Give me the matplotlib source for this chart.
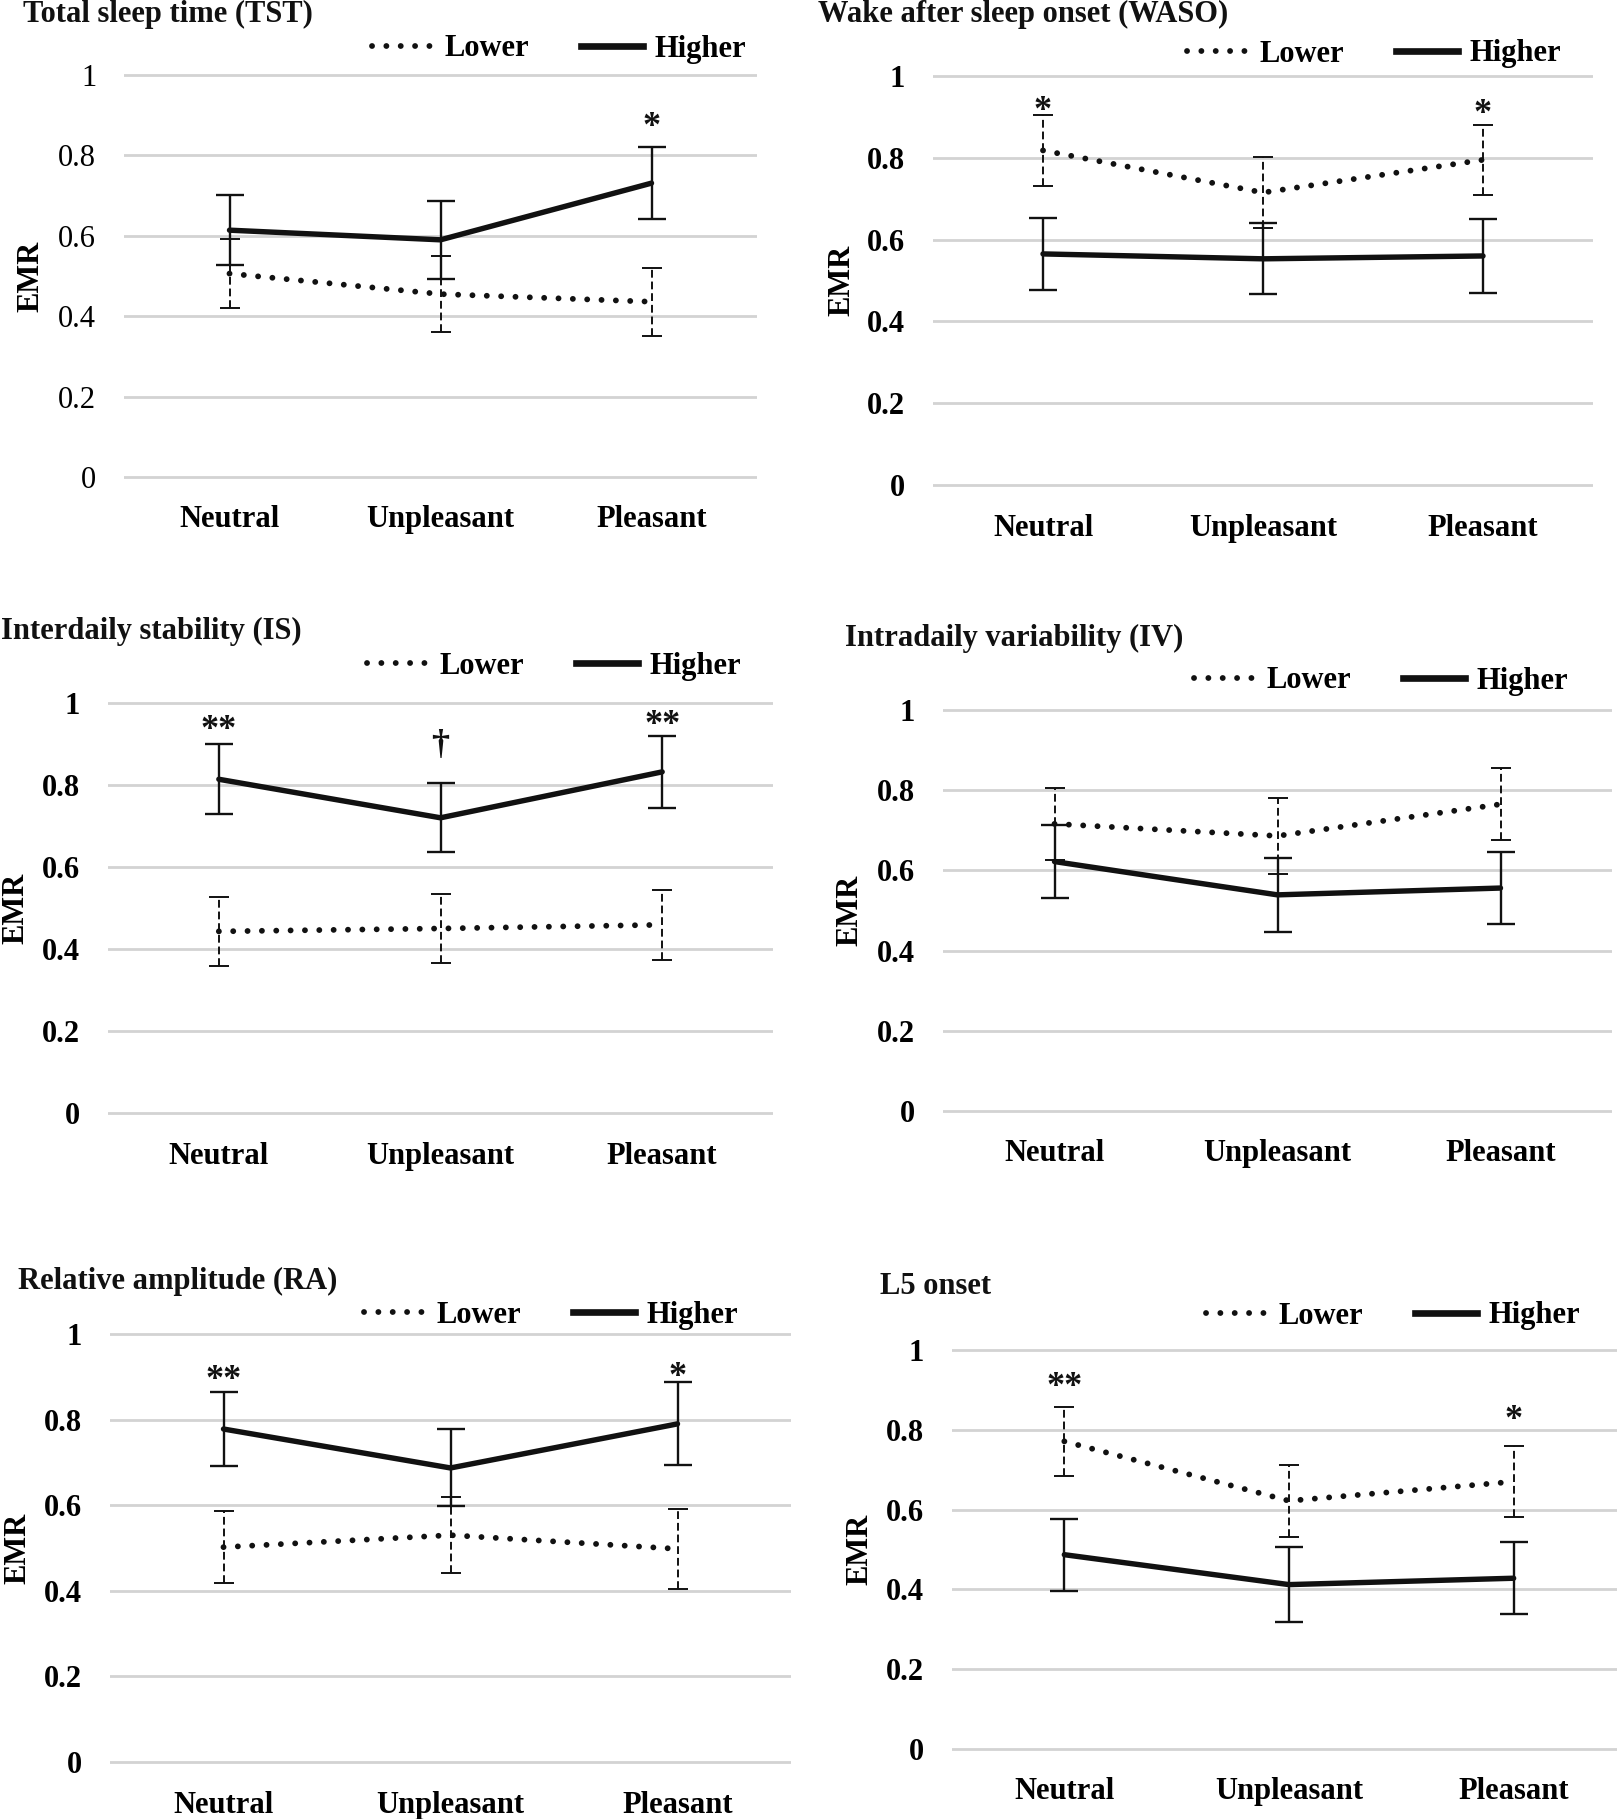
import matplotlib
matplotlib.use('Agg')
import matplotlib.pyplot as plt
from matplotlib.lines import Line2D

# ---------------- data ----------------
categories = ['Neutral', 'Unpleasant', 'Pleasant']
ytick_values = [0, 0.2, 0.4, 0.6, 0.8, 1]
ytick_labels = ['0', '0.2', '0.4', '0.6', '0.8', '1']
series_names = ['Lower', 'Higher']

titles = ['Total sleep time (TST)', 'Wake after sleep onset (WASO)',
          'Interdaily stability (IS)', 'Intradaily variability (IV)',
          'Relative amplitude (RA)', 'L5 onset']

tst_lower = [0.506, 0.455, 0.436]
tst_lower_err = [0.085, 0.094, 0.085]
tst_higher = [0.614, 0.590, 0.731]
tst_higher_err = [0.087, 0.097, 0.090]

waso_lower = [0.818, 0.715, 0.795]
waso_lower_err = [0.086, 0.086, 0.086]
waso_higher = [0.565, 0.553, 0.560]
waso_higher_err = [0.088, 0.087, 0.090]

is_lower = [0.443, 0.450, 0.459]
is_lower_err = [0.084, 0.084, 0.085]
is_higher = [0.814, 0.720, 0.832]
is_higher_err = [0.085, 0.084, 0.088]

iv_lower = [0.716, 0.686, 0.765]
iv_lower_err = [0.090, 0.095, 0.090]
iv_higher = [0.622, 0.539, 0.556]
iv_higher_err = [0.090, 0.092, 0.090]

ra_lower = [0.502, 0.530, 0.498]
ra_lower_err = [0.084, 0.088, 0.094]
ra_higher = [0.778, 0.687, 0.790]
ra_higher_err = [0.086, 0.090, 0.097]

l5_lower = [0.771, 0.622, 0.670]
l5_lower_err = [0.087, 0.090, 0.089]
l5_higher = [0.487, 0.412, 0.428]
l5_higher_err = [0.090, 0.094, 0.090]

# significance marks: (category index, y value, text)
tst_marks = [(2, 0.888, '*')]
waso_marks = [(0, 0.933, '*'), (2, 0.924, '*')]
is_marks = [(0, 0.951, '**'), (1, 0.897, '\u2020'), (2, 0.963, '**')]
iv_marks = []
ra_marks = [(0, 0.910, '**'), (2, 0.917, '*')]
l5_marks = [(0, 0.924, '**'), (2, 0.842, '*')]

# ---------------- layout (pixels) ----------------
W, H, DPI = 1617, 1819, 100
# left, right, y of 1-line, y of 0-line, title x, title y, legend cx, legend cy, ylabel x
layouts = [
    (124, 757, 75, 477, 23, 14, 559, 49, 31),
    (933, 1593, 76, 485, 818, 14, 1374, 54, 842),
    (108, 773, 703, 1113, 1, 631, 554, 666, 16),
    (943, 1612, 710, 1111, 845, 638, 1381, 681, 850),
    (110, 791, 1334, 1762, 18, 1281, 551, 1315, 18),
    (952, 1626, 1350, 1749, 880, 1287, 1393, 1316, 860),
]

FONT = 'Liberation Serif'
FS = 22
INK = '#111111'
GRID = '#d3d3d3'

plt.rcParams['font.family'] = [FONT, 'DejaVu Serif']

fig = plt.figure(figsize=(W / DPI, H / DPI), dpi=DPI)
fig.patch.set_facecolor('white')

panels = [
    (tst_lower, tst_lower_err, tst_higher, tst_higher_err, tst_marks, 'normal'),
    (waso_lower, waso_lower_err, waso_higher, waso_higher_err, waso_marks, 'bold'),
    (is_lower, is_lower_err, is_higher, is_higher_err, is_marks, 'bold'),
    (iv_lower, iv_lower_err, iv_higher, iv_higher_err, iv_marks, 'bold'),
    (ra_lower, ra_lower_err, ra_higher, ra_higher_err, ra_marks, 'bold'),
    (l5_lower, l5_lower_err, l5_higher, l5_higher_err, l5_marks, 'bold'),
]

MARGIN = 0.012
lower_style = dict(color=INK, lw=4.2, linestyle=(0, (0.01, 2.45)), dash_capstyle='round')
higher_style = dict(color=INK, lw=3.9, solid_capstyle='round')

for (lo, lo_e, hi, hi_e, marks, tick_weight), title, lay in zip(panels, titles, layouts):
    left, right, y1, y0, tx, ty, lcx, lcy, ylx = lay
    ppu = y0 - y1
    top_px = y1 - MARGIN * ppu
    bot_px = y0 + MARGIN * ppu
    ax = fig.add_axes([left / W, 1 - bot_px / H, (right - left) / W, (bot_px - top_px) / H])
    ax.set_xlim(-0.5, len(categories) - 0.5)
    ax.set_ylim(-MARGIN, 1 + MARGIN)
    for s in ax.spines.values():
        s.set_visible(False)
    ax.set_facecolor('none')
    ax.set_yticks(ytick_values)
    ax.set_yticklabels(ytick_labels, fontsize=FS, fontweight=tick_weight, family=FONT)
    ax.set_xticks(range(len(categories)))
    ax.set_xticklabels(categories, fontsize=FS, fontweight='bold', family=FONT)
    ax.tick_params(axis='y', length=0, pad=20)
    ax.tick_params(axis='x', length=0, pad=17)
    ax.grid(axis='y', color=GRID, lw=2.0)
    ax.set_axisbelow(True)

    x = list(range(len(categories)))
    # lower group
    eb = ax.errorbar(x, lo, yerr=lo_e, fmt='none', ecolor=INK, elinewidth=1.4,
                     capsize=7, capthick=1.4, zorder=3)
    eb[2][0].set_linestyle((0, (4.0, 2.0)))
    ax.plot(x, lo, zorder=4, **lower_style)
    # higher group
    ax.errorbar(x, hi, yerr=hi_e, fmt='none', ecolor=INK, elinewidth=1.7,
                capsize=10, capthick=1.7, zorder=5)
    ax.plot(x, hi, zorder=6, **higher_style)

    for ci, yv, txt in marks:
        off = 0 if txt == '\u2020' else -5.5
        ax.annotate(txt, (ci, yv), xytext=(0, off), textcoords='offset points',
                    ha='center', va='center', fontsize=FS + 4, fontweight='bold',
                    family=FONT, color=INK)

    ax.set_ylabel('EMR', fontsize=FS, fontweight='bold', family=FONT)
    ax.yaxis.label.set_rotation_mode('default')
    ax.yaxis.label.set_ha('center')
    ax.yaxis.label.set_va('center')
    ax.yaxis.set_label_coords(ylx / W, 1 - ((y0 + y1) / 2) / H, transform=fig.transFigure)

    fig.text(tx / W, 1 - ty / H, title, ha='left', va='center', fontsize=FS,
             fontweight='bold', family=FONT, color=INK)

    handles = [Line2D([], [], **lower_style), Line2D([], [], color=INK, lw=4.8)]
    ax.legend(handles, series_names, ncol=2, loc='center',
              bbox_to_anchor=(lcx / W, 1 - lcy / H), bbox_transform=fig.transFigure,
              frameon=False, handlelength=2.0, handletextpad=0.4, columnspacing=1.7,
              borderpad=0, borderaxespad=0,
              prop={'family': FONT, 'weight': 'bold', 'size': FS})

fig.savefig('out.png', dpi=DPI, facecolor='white')
